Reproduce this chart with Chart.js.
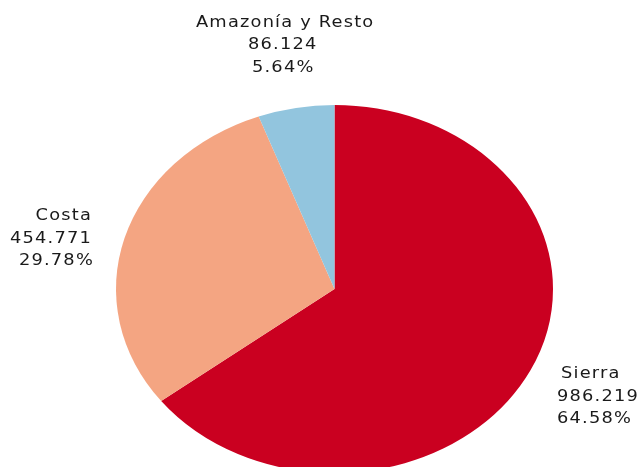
<!DOCTYPE html>
<html>
<head>
<meta charset="utf-8">
<script src="https://cdn.jsdelivr.net/npm/chart.js@4"></script>
<style>
  html, body { margin: 0; padding: 0; background: #fff; overflow: hidden; }
  #wrap { width: 640px; height: 467px; overflow: hidden; }
</style>
</head>
<body>
<div id="wrap"><canvas id="pie" width="640" height="480"></canvas></div>
<script>
// Datos del gráfico
const categories = ['Sierra', 'Costa', 'Amazonía y Resto'];
const values = [986219, 454771, 86124];
const colors = ['#ca0020', '#f4a582', '#92c5de'];

// El original está estirado en horizontal (elipse)
const STRETCH = 1.1875;

const total = values.reduce((a, b) => a + b, 0);

function fmtMiles(v) {
    return String(v).replace(/\B(?=(\d{3})+(?!\d))/g, '.');
}

// Posición de cada bloque de etiqueta: x de anclaje por línea, alineación y líneas base
const labelPos = [
    { align: 'left', xs: [561, 557, 557], ys: [378, 401, 423] },
    { align: 'right', xs: [92, 92, 94], ys: [220, 243, 265] },
    { align: 'left', xs: [196, 248, 252], ys: [27, 49, 72] }
];

const ellipsePlugin = {
    id: 'ellipse',
    beforeDatasetsDraw(chart) {
        const { ctx, chartArea } = chart;
        const cx = (chartArea.left + chartArea.right) / 2;
        const cy = (chartArea.top + chartArea.bottom) / 2;
        ctx.save();
        ctx.translate(cx, cy);
        ctx.scale(STRETCH, 1);
        ctx.translate(-cx, -cy);
    },
    afterDatasetsDraw(chart) {
        chart.ctx.restore();
    }
};

const labelsPlugin = {
    id: 'sliceLabels',
    afterDraw(chart) {
        const ctx = chart.ctx;
        categories.forEach((cat, i) => {
            const pct = (values[i] / total * 100).toFixed(2) + '%';
            const lines = [cat, fmtMiles(values[i]), pct];
            const p = labelPos[i];
            lines.forEach((txt, j) => {
                ctx.save();
                ctx.translate(p.xs[j], p.ys[j]);
                ctx.scale(STRETCH, 1);
                ctx.font = '15px "DejaVu Sans"';
                ctx.letterSpacing = '1px';
                ctx.fillStyle = '#1a1a1a';
                ctx.textAlign = p.align;
                ctx.textBaseline = 'alphabetic';
                ctx.fillText(txt, 0, 0);
                ctx.restore();
            });
        });
    }
};

new Chart(document.getElementById('pie').getContext('2d'), {
    type: 'pie',
    plugins: [ellipsePlugin, labelsPlugin],
    data: {
        labels: categories,
        datasets: [{
            data: values,
            backgroundColor: colors,
            borderWidth: 0,
            clip: false
        }]
    },
    options: {
        responsive: false,
        animation: false,
        rotation: 0,
        layout: { padding: { top: 105, bottom: 7, left: 150, right: 121 } },
        plugins: {
            legend: { display: false },
            tooltip: { enabled: false }
        }
    }
});
</script>
</body>
</html>
